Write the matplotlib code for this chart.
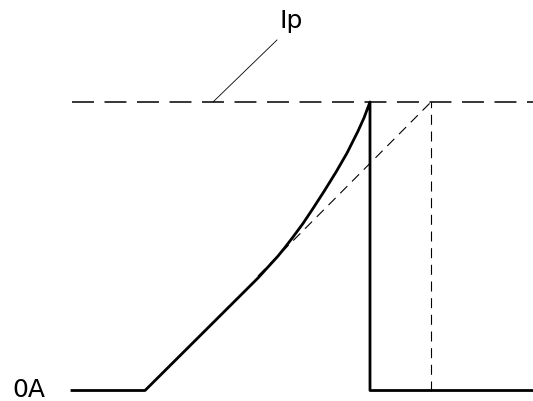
import matplotlib
matplotlib.use('Agg')
import matplotlib.pyplot as plt
import numpy as np

plt.rcParams['lines.scale_dashes'] = False
plt.rcParams['font.family'] = ['DejaVu Sans']

# 波形数据: t 为时间 (像素刻度), cur 为电流 (相对 Ip)
t_wave = [72, 145, 258, 278, 285, 293, 303, 313, 324, 336, 347, 358, 364, 370, 370, 533]
cur_wave = [0, 0, 0.39, 0.466, 0.496, 0.532, 0.579, 0.631, 0.690, 0.757, 0.823, 0.899, 0.945, 1.0, 0, 0]

# 切线延长 (虚线)
t_tangent = [258, 431]
cur_tangent = [0.397, 1.0]

# Ip 水平线
t_ip = [72, 533]
ip_level = 1.0

# 虚线竖线位置
t_cut = 431

# 标注线 Ip
t_leader = [213, 277]
cur_leader = [1.0, 1.215]

labels = ['Ip', '0A']

fig = plt.figure(figsize=(5.33, 4.01), dpi=100)
ax = fig.add_axes([0, 0, 1, 1])
ax.set_xlim(0, 533)
ax.set_ylim(-10.5 / 288.5, 390.5 / 288.5)
ax.axis('off')

ax.plot(t_ip, [ip_level, ip_level], color='black', lw=1.1, dashes=(15.8, 7.6))
ax.plot(t_tangent, cur_tangent, color='black', lw=0.8, dashes=(7.2, 4.8))
ax.plot([t_cut, t_cut], [0, ip_level], color='black', lw=0.8, dashes=(7.2, 4.8))
ax.plot(t_leader, cur_leader, color='black', lw=0.6)
ax.plot(t_wave, cur_wave, color='black', lw=2.0, solid_joinstyle='round')

ax.text(279, 1.257, labels[0], fontsize=18, ha='left', va='baseline')
ax.text(12, -0.021, labels[1], fontsize=18, ha='left', va='baseline')

fig.savefig('out.png', dpi=100)
